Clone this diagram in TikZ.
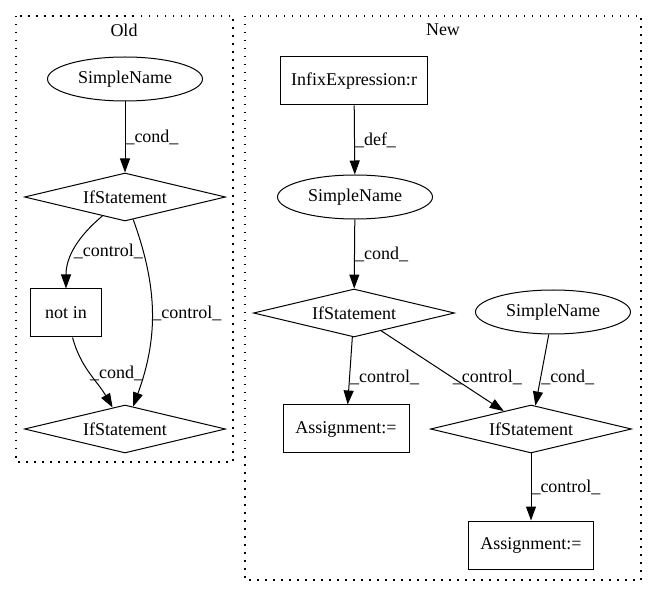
\documentclass[tikz,border=0pt]{standalone}
\usepackage{fontspec}
\setmainfont{Liberation Serif}
\usetikzlibrary{shapes.geometric,arrows.meta}

\begin{document}
\begin{tikzpicture}[x=1pt,y=1pt,
    every node/.style={font=\fontsize{18}{20}\selectfont},
    stmt/.style={draw,line width=1pt,diamond,aspect=4,inner sep=0pt,minimum width=201pt,minimum height=48pt},
    namebox/.style={draw,line width=1pt,ellipse,inner sep=0pt,minimum width=155pt,minimum height=44pt},
    opbox/.style={draw,line width=1pt,rectangle,inner sep=0pt,minimum height=48pt},
    lbl/.style={anchor=west,inner sep=0pt},
    flow/.style={-{Triangle[length=14pt,width=10pt]},line width=1pt},
    cluster/.style={line width=1.2pt,dash pattern=on 1.5pt off 6.5pt}]
  \useasboundingbox (0,0) rectangle (657,-596);

  \draw[cluster] (16,-16) rectangle (233,-462);
  \draw[cluster] (245,-16) rectangle (641,-580);
  \node (oldtitle) at (124,-30) {Old};
  \node (newtitle) at (443,-30) {New};

  \node[namebox] (oldname) at (125,-79) {SimpleName};
  \node[stmt] (oldif) at (125,-197) {IfStatement};
  \node[opbox,minimum width=71pt] (notin) at (66,-313) {not in};
  \node[stmt] (oldifb) at (125,-429) {IfStatement};

  \node[opbox,minimum width=147pt] (infix) at (354,-81) {InfixExpression:r};
  \node[namebox] (newname) at (355,-197) {SimpleName};
  \node[stmt] (newif) at (354,-313) {IfStatement};
  \node[namebox] (sidename) at (553,-312) {SimpleName};
  \node[opbox,minimum width=126pt] (assignl) at (346,-429) {Assignment:=};
  \node[stmt] (sideif) at (531,-429) {IfStatement};
  \node[opbox,minimum width=125pt] (assignb) at (531,-545) {Assignment:=};

  \draw[flow] (oldname) -- node[lbl] (oldcond) {\_cond\_} (oldif);
  \draw[flow] (oldif) to[out=-140,in=90] node[lbl,pos=0.55] (oldctrla) {\_control\_} (notin);
  \draw[flow] (oldif) to[out=-70,in=70] node[lbl,pos=0.5] (oldctrlb) {\_control\_} (oldifb);
  \draw[flow] (notin) to[out=-75,in=120] node[lbl,pos=0.5] (oldcondb) {\_cond\_} (oldifb);

  \draw[flow] (infix) -- node[lbl] (newdef) {\_def\_} (newname);
  \draw[flow] (newname) -- node[lbl] (newcond) {\_cond\_} (newif);
  \draw[flow] (newif) -- node[lbl,pos=0.6] (newctrla) {\_control\_} (assignl);
  \draw[flow] (newif) -- node[lbl,pos=0.58] (newctrlb) {\_control\_} (sideif);
  \draw[flow] (sidename) -- node[lbl,pos=0.6] (sidecond) {\_cond\_} (sideif);
  \draw[flow] (sideif) -- node[lbl] (sidectrl) {\_control\_} (assignb);
\end{tikzpicture}
\end{document}
